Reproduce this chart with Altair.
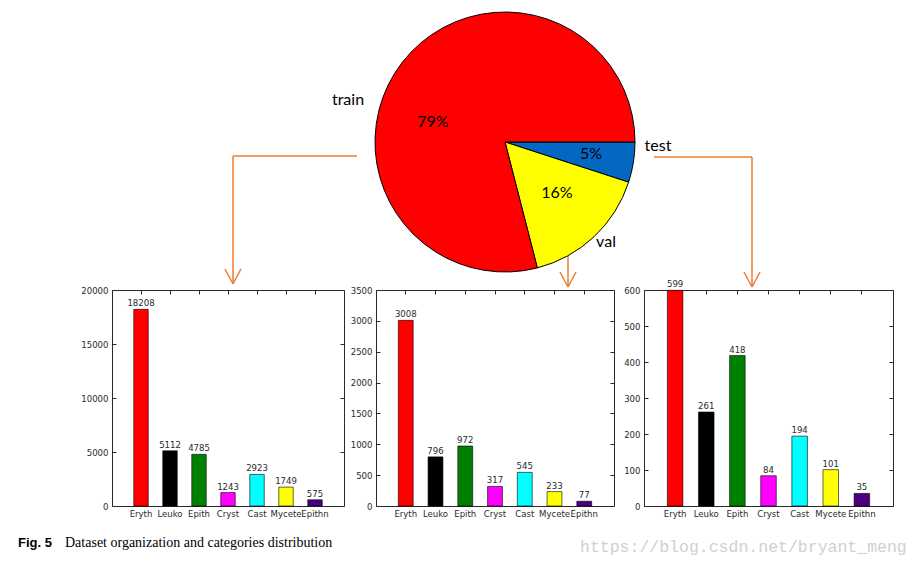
import math
import altair as alt
import pandas as pd

# ---------------- data ----------------
categories = ["Eryth", "Leuko", "Epith", "Cryst", "Cast", "Mycete", "Epithn"]
bar_colors = ["#ff0000", "#000000", "#008000", "#ff00ff", "#00ffff", "#ffff00", "#4b0082"]
train_counts = [18208, 5112, 4785, 1243, 2923, 1749, 575]
val_counts = [3008, 796, 972, 317, 545, 233, 77]
test_counts = [599, 261, 418, 84, 194, 101, 35]
train_ticks = [0, 5000, 10000, 15000, 20000]
val_ticks = [0, 500, 1000, 1500, 2000, 2500, 3000, 3500]
test_ticks = [0, 100, 200, 300, 400, 500, 600]

split_names = ["test", "val", "train"]
split_pct = [5, 16, 79]
split_colors = ["#0468c2", "#ffff00", "#ff0000"]

# ---------------- layout ----------------
W, H = 905, 551
YT, YB = 282, 498
FONT = "DejaVu Sans Condensed, DejaVu Sans"
DARK = "#2a2a2a"
ORANGE = "#ed7d31"
blank = alt.Data(values=[{"k": 0}])

layers = []


def seg(x1, y1, x2, y2):
    return alt.Chart(blank).mark_rule(color=ORANGE, strokeWidth=1.5).encode(
        x=alt.value(x1), y=alt.value(y1), x2=alt.value(x2), y2=alt.value(y2)
    )


def note(text, x, y, size, font="Lato", color="black", align="center", weight="normal"):
    return alt.Chart(blank).mark_text(
        text=text, font=font, fontSize=size, color=color, align=align,
        baseline="middle", fontWeight=weight
    ).encode(x=alt.value(x), y=alt.value(y))


# arrows
layers += [
    seg(349, 148, 225, 148), seg(225, 148, 225, 276),
    seg(217, 261, 225, 276), seg(233, 261, 225, 276),
    seg(560, 245, 560, 279),
    seg(552, 264, 560, 279), seg(568, 264, 560, 279),
    seg(646, 149, 744, 149), seg(744, 149, 744, 279),
    seg(736, 264, 744, 279), seg(752, 264, 744, 279),
]

# pie
pie_df = pd.DataFrame({"split": split_names, "pct": split_pct, "rank": [0, 1, 2]})
layers.append(
    alt.Chart(pie_df).mark_arc(radius=130, stroke="black", strokeWidth=1).encode(
        x=alt.value(497), y=alt.value(134),
        theta=alt.Theta("pct:Q", stack=True,
                        scale=alt.Scale(range=[math.pi / 2, math.pi / 2 + 2 * math.pi])),
        color=alt.Color("split:N", scale=alt.Scale(domain=split_names, range=split_colors),
                        legend=None),
        order=alt.Order("rank:Q"),
    )
)

layers += [
    note("train", 340, 92, 16),
    note("79%", 425, 114, 16),
    note("16%", 549, 185, 16),
    note("5%", 583, 146, 16),
    note("test", 650, 138, 16),
    note("val", 598, 234, 16),
]


def panel(counts, ticks, x0, x1):
    df = pd.DataFrame({"cat": categories, "count": counts})
    ymax = ticks[-1]

    def xenc(axis, **kw):
        return alt.X("cat:N", sort=categories,
                     scale=alt.Scale(type="band", domain=categories, range=[x0, x1],
                                     paddingInner=0.5, paddingOuter=0.75),
                     axis=axis, **kw)

    def yenc(axis):
        return alt.Y("count:Q",
                     scale=alt.Scale(domain=[0, ymax], range=[YB, YT], nice=False, zero=True),
                     axis=axis)

    bars = alt.Chart(df).mark_bar(stroke="black", strokeWidth=0.6).encode(
        x=xenc(alt.Axis(orient="bottom", offset=YB - H, title=None, labelAngle=0,
                        ticks=False, tickSize=0, labelPadding=2, labelOverlap=False,
                        domain=True)),
        y=yenc(alt.Axis(orient="left", offset=-x0, title=None, values=ticks, format="d",
                        ticks=False, tickSize=0, labelPadding=4, labelOverlap=False,
                        labelFlush=False, domain=True)),
        color=alt.Color("cat:N", scale=alt.Scale(domain=categories, range=bar_colors),
                        legend=None),
    )
    text = alt.Chart(df).mark_text(baseline="bottom", dy=-1, font=FONT, fontSize=9.5,
                                   color=DARK).encode(
        x=xenc(alt.Axis(orient="top", offset=-YB, title=None, labels=False, domain=False,
                        tickSize=4), bandPosition=0.5),
        y=yenc(alt.Axis(orient="right", offset=x0 - W, title=None, labels=False,
                        domain=False, values=ticks, tickSize=4)),
        text=alt.Text("count:Q", format="d"),
    )
    frame = alt.Chart(df).mark_bar(opacity=0).encode(
        x=xenc(alt.Axis(orient="bottom", offset=YT - H, title=None, labels=False,
                        domain=True, tickSize=4)),
        y=yenc(alt.Axis(orient="left", offset=-x1, title=None, labels=False,
                        domain=True, values=ticks, tickSize=4)),
    )
    return [bars, text, frame]


layers += panel(train_counts, train_ticks, 104, 336)
layers += panel(val_counts, val_ticks, 368, 606)
layers += panel(test_counts, test_ticks, 636, 885)

# caption and watermark
layers += [
    note("Fig. 5", 10, 535, 13, font="Liberation Sans", align="left", weight="bold"),
    note("Dataset organization and categories distribution", 57, 535, 14,
         font="Liberation Serif", align="left"),
    note("https://blog.csdn.net/bryant_meng", 572, 539, 16.5, font="Liberation Mono",
         color="#d0d0d0", align="left"),
]

chart = (
    alt.layer(*layers)
    .properties(width=W, height=H, autosize=alt.AutoSizeParams(type="none"), padding=0)
    .resolve_scale(x="independent", y="independent", color="independent", theta="independent")
    .configure_view(strokeWidth=0)
    .configure_axis(grid=False, labelFont=FONT, labelFontSize=9.5, labelColor=DARK,
                    domainColor=DARK, tickColor=DARK, domainWidth=1, tickWidth=1)
)

chart.save("out.html", embed_options={"renderer": "svg", "actions": False})
